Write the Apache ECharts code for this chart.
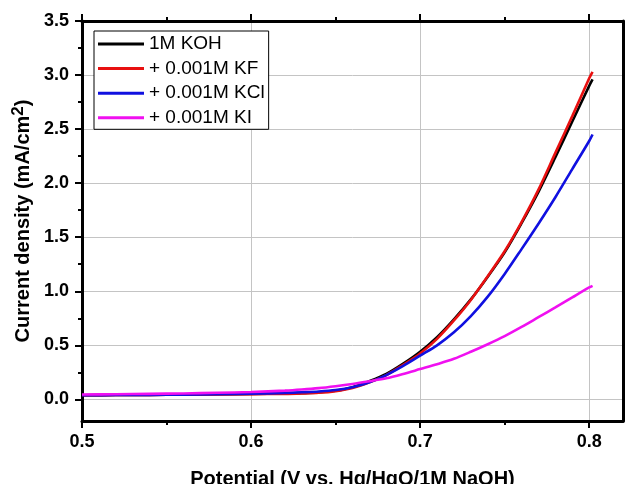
<!DOCTYPE html>
<html>
<head>
<meta charset="utf-8">
<script src="https://cdn.jsdelivr.net/npm/echarts@6/dist/echarts.min.js"></script>
<style>
html,body{margin:0;padding:0;background:#fff;}
#chart{width:628px;height:484px;}
</style>
</head>
<body>
<div id="chart"></div>
<script>
// Potential (V vs. Hg/HgO/1M NaOH)
const potentials = [0.50,0.52,0.54,0.56,0.58,0.60,0.62,0.63,0.64,0.65,0.66,0.67,0.68,0.69,0.70,0.71,0.72,0.73,0.74,0.75,0.76,0.77,0.78,0.79,0.80,0.802];
// Current density (mA/cm2)
const koh = [0.038,0.040,0.042,0.044,0.047,0.050,0.054,0.058,0.065,0.079,0.112,0.168,0.235,0.33,0.44,0.575,0.74,0.925,1.135,1.36,1.63,1.92,2.24,2.57,2.90,2.96];
const kf  = [0.038,0.040,0.042,0.044,0.046,0.049,0.051,0.055,0.061,0.076,0.105,0.158,0.225,0.32,0.425,0.56,0.73,0.92,1.14,1.37,1.64,1.94,2.28,2.62,2.97,3.03];
const kcl = [0.038,0.040,0.042,0.044,0.047,0.052,0.060,0.066,0.073,0.086,0.112,0.158,0.225,0.31,0.405,0.50,0.62,0.77,0.95,1.16,1.39,1.625,1.87,2.13,2.39,2.45];
const ki  = [0.045,0.048,0.051,0.055,0.061,0.068,0.081,0.091,0.104,0.122,0.143,0.168,0.195,0.235,0.28,0.325,0.375,0.44,0.51,0.585,0.67,0.76,0.85,0.943,1.035,1.05];

const seriesNames = ['1M KOH', '+ 0.001M KF', '+ 0.001M KCl', '+ 0.001M KI'];
const seriesValues = [koh, kf, kcl, ki];
const seriesColors = ['#000000', '#e81010', '#1010e0', '#f010f0'];

const xMajorTicks = [0.5, 0.6, 0.7, 0.8];
const xMinorTicks = [0.55, 0.65, 0.75];
const yMajorTicks = [0, 0.5, 1.0, 1.5, 2.0, 2.5, 3.0, 3.5];
const yMinorTicks = [0.25, 0.75, 1.25, 1.75, 2.25, 2.75, 3.25];

const FONT = "'Liberation Sans', Arial, sans-serif";
const X_MIN = 0.5, X_MAX = 0.82, Y_MIN = -0.2, Y_MAX = 3.5;

const chart = echarts.init(document.getElementById('chart'), null, {renderer: 'canvas'});

const blackLine = {show: true, onZero: false, lineStyle: {color: '#000', width: 3}};
const noLine = {show: false, onZero: false};

const option = {
  backgroundColor: '#ffffff',
  animation: false,
  grid: {left: 82, top: 21, width: 541, height: 400, containLabel: false, outerBoundsMode: 'none'},
  legend: {
    orient: 'vertical',
    left: 94, top: 31,
    padding: [3.5, 4, 2, 4],
    itemGap: 5.6,
    itemWidth: 46, itemHeight: 3,
    icon: 'rect',
    borderColor: '#000', borderWidth: 1,
    backgroundColor: '#fff',
    textStyle: {fontFamily: FONT, fontSize: 19, lineHeight: 19, color: '#000'},
    data: seriesNames
  },
  xAxis: [
    {
      type: 'value', position: 'bottom', min: X_MIN, max: X_MAX, interval: 0.1,
      name: 'Potential (V vs. Hg/HgO/1M NaOH)', nameLocation: 'middle', nameGap: 48,
      nameTextStyle: {fontFamily: FONT, fontSize: 20, fontWeight: 'bold', color: '#000'},
      axisLine: blackLine,
      axisTick: {show: true, inside: false, length: 7, lineStyle: {color: '#000', width: 2}, customValues: xMajorTicks},
      axisLabel: {show: true, margin: 12, fontFamily: FONT, fontSize: 18, fontWeight: 'bold', color: '#000',
        formatter: v => (v > 0.81 ? '' : v.toFixed(1))},
      splitLine: {show: true, lineStyle: {color: '#c4c4c4', width: 1}}
    },
    {
      type: 'value', position: 'bottom', min: X_MIN, max: X_MAX,
      axisLine: noLine,
      axisTick: {show: true, inside: false, length: 4, lineStyle: {color: '#000', width: 2}, customValues: xMinorTicks},
      axisLabel: {show: false}, splitLine: {show: false}
    },
    {
      type: 'value', position: 'top', min: X_MIN, max: X_MAX,
      axisLine: blackLine,
      axisTick: {show: true, inside: false, length: 7, lineStyle: {color: '#000', width: 2}, customValues: xMajorTicks},
      axisLabel: {show: false}, splitLine: {show: false}
    },
    {
      type: 'value', position: 'top', min: X_MIN, max: X_MAX,
      axisLine: noLine,
      axisTick: {show: true, inside: false, length: 4, lineStyle: {color: '#000', width: 2}, customValues: xMinorTicks},
      axisLabel: {show: false}, splitLine: {show: false}
    }
  ],
  yAxis: [
    {
      type: 'value', position: 'left', min: Y_MIN, max: Y_MAX, splitNumber: 7,
      name: '{a|Current density (mA/cm}{s|2}{a|)}', nameLocation: 'middle', nameGap: 46,
      nameTextStyle: {
        fontFamily: FONT, fontSize: 20, fontWeight: 'bold', color: '#000',
        rich: {
          a: {fontFamily: FONT, fontSize: 20, fontWeight: 'bold', color: '#000', lineHeight: 26, verticalAlign: 'middle'},
          s: {fontFamily: FONT, fontSize: 17, fontWeight: 'bold', color: '#000', lineHeight: 12, verticalAlign: 'top'}
        }
      },
      axisLine: blackLine,
      axisTick: {show: true, inside: false, length: 7, lineStyle: {color: '#000', width: 2}, customValues: yMajorTicks},
      axisLabel: {show: true, margin: 13, fontFamily: FONT, fontSize: 18, fontWeight: 'bold', color: '#000',
        formatter: v => (v < -0.01 ? '' : v.toFixed(1))},
      splitLine: {show: true, lineStyle: {color: '#c4c4c4', width: 1}}
    },
    {
      type: 'value', position: 'left', min: Y_MIN, max: Y_MAX,
      axisLine: noLine,
      axisTick: {show: true, inside: false, length: 4, lineStyle: {color: '#000', width: 2}, customValues: yMinorTicks},
      axisLabel: {show: false}, splitLine: {show: false}
    },
    {
      type: 'value', position: 'right', min: Y_MIN, max: Y_MAX,
      axisLine: blackLine,
      axisTick: {show: false}, axisLabel: {show: false}, splitLine: {show: false}
    }
  ],
  series: seriesNames.map((name, k) => ({
    name: name,
    type: 'line',
    xAxisIndex: 0, yAxisIndex: 0,
    showSymbol: false,
    smooth: 0.3,
    color: seriesColors[k],
    lineStyle: {color: seriesColors[k], width: 2.6},
    data: potentials.map((p, i) => [p, seriesValues[k][i]])
  }))
};

chart.setOption(option);
</script>
</body>
</html>
